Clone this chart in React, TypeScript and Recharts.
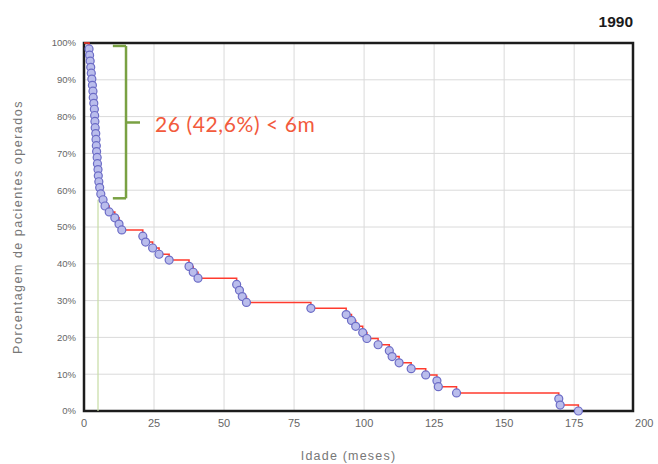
import * as React from "react";
import {
  ComposedChart,
  Line,
  Scatter,
  XAxis,
  YAxis,
  CartesianGrid,
  ReferenceLine,
  ReferenceArea,
} from "recharts";

// age (months) at which each patient was operated
const ages = [
  1.8, 2.0, 2.2, 2.4, 2.6, 2.8, 3.0, 3.2, 3.3, 3.5, 3.7, 3.8, 3.9, 4.0, 4.2,
  4.3, 4.4, 4.5, 4.7, 4.8, 5.0, 5.1, 5.3, 5.6, 6.0, 6.8, 7.5, 9, 11, 12.5,
  13.5, 21, 22, 24.5, 26.8, 30.4, 37.5, 39, 40.7, 54.5, 55.5, 56.5, 58, 81,
  93.6, 95.5, 97, 99.5, 101, 105, 109, 110, 112.5, 116.8, 122, 126, 126.5,
  133, 169.5, 170, 176.5,
];

// percentage still not operated after each of those
const pcts = [
  98.4, 96.7, 95.1, 93.4, 91.8, 90.2, 88.5, 86.9, 85.2, 83.6, 82.0, 80.3,
  78.7, 77.0, 75.4, 73.8, 72.1, 70.5, 68.9, 67.2, 65.6, 63.9, 62.3, 60.7,
  59.0, 57.4, 55.7, 54.1, 52.5, 50.8, 49.2, 47.5, 45.9, 44.3, 42.6, 41.0,
  39.3, 37.7, 36.1, 34.4, 32.8, 31.1, 29.5, 27.9, 26.2, 24.6, 23.0, 21.3,
  19.7, 18.0, 16.4, 14.8, 13.1, 11.5, 9.8, 8.2, 6.6, 4.9, 3.3, 1.6, 0,
];

const xTicks = [0, 25, 50, 75, 100, 125, 150, 175, 200];
const yTicks = [0, 10, 20, 30, 40, 50, 60, 70, 80, 90, 100];

const points = ages.map((a, i) => ({ age: a, pct: pcts[i] }));
const stepData = [{ age: 0, pct: 100 }, ...points];

const brace = "#79a143";

function Dot(p) {
  return (
    <circle
      cx={p.cx}
      cy={p.cy}
      r={4}
      fill="#babdec"
      stroke="#6c6cc6"
      strokeWidth={1.2}
    />
  );
}

export default function App() {
  return (
    <div style={{ position: "absolute", left: 0, top: 0, width: 658, height: 464 }}>
      <ComposedChart
        width={658}
        height={464}
        margin={{ top: 43, right: 25, bottom: 23, left: 44 }}
      >
        <CartesianGrid
          stroke="#dadada"
          verticalValues={[25, 50, 75, 100, 125, 150, 175]}
          horizontalValues={[10, 20, 30, 40, 50, 60, 70, 80, 90]}
        />
        <XAxis
          type="number"
          dataKey="age"
          domain={[0, 196]}
          allowDataOverflow
          ticks={xTicks}
          interval={0}
          axisLine={false}
          tickLine={false}
          tick={{ fontSize: 11, fill: "#666", fontFamily: "Liberation Sans" }}
          height={30}
          label={{
            value: "Idade (meses)",
            position: "bottom",
            offset: 10,
            dx: -10,
            style: {
              fontSize: 12.5,
              fill: "#777",
              letterSpacing: 1.2,
              fontFamily: "Liberation Sans",
            },
          }}
        />
        <YAxis
          type="number"
          dataKey="pct"
          domain={[0, 100]}
          ticks={yTicks}
          interval={0}
          width={40}
          axisLine={false}
          tickLine={false}
          tickFormatter={(v) => v + "%"}
          tick={{ fontSize: 9.5, fill: "#666", fontFamily: "Liberation Sans" }}
          label={{
            value: "Porcentagem de pacientes operados",
            angle: -90,
            position: "insideLeft",
            offset: -26,
            style: {
              textAnchor: "middle",
              fontSize: 12.5,
              fill: "#777",
              letterSpacing: 1.5,
              fontFamily: "Liberation Sans",
            },
          }}
        />
        <ReferenceLine
          segment={[
            { x: 5, y: 0 },
            { x: 5, y: 57.4 },
          ]}
          stroke="#c6dca4"
          strokeWidth={1.2}
        />
        <ReferenceLine
          segment={[
            { x: 15, y: 99.2 },
            { x: 15, y: 57.8 },
          ]}
          stroke={brace}
          strokeWidth={2.5}
        />
        <ReferenceLine
          segment={[
            { x: 10.3, y: 99.2 },
            { x: 15, y: 99.2 },
          ]}
          stroke={brace}
          strokeWidth={2.5}
        />
        <ReferenceLine
          segment={[
            { x: 10.3, y: 57.8 },
            { x: 15, y: 57.8 },
          ]}
          stroke={brace}
          strokeWidth={2.5}
        />
        <ReferenceLine
          segment={[
            { x: 15, y: 78.4 },
            { x: 20, y: 78.4 },
          ]}
          stroke={brace}
          strokeWidth={2.5}
        />
        <Line
          data={stepData}
          dataKey="pct"
          type="stepAfter"
          stroke="#ff3b2e"
          strokeWidth={1.5}
          dot={false}
          isAnimationActive={false}
        />
        <Scatter
          data={points}
          dataKey="pct"
          shape={Dot}
          isAnimationActive={false}
        />
        <ReferenceArea
          x1={0}
          x2={196}
          y1={0}
          y2={100}
          fill="none"
          stroke="#1c1c1c"
          strokeWidth={2.5}
        />
      </ComposedChart>
      <div
        style={{
          position: "absolute",
          left: 560,
          width: 73,
          top: 13,
          textAlign: "right",
          fontFamily: "Liberation Sans",
          fontWeight: "bold",
          fontSize: 15.5,
          lineHeight: "18px",
          color: "#1a1a1a",
        }}
      >
        1990
      </div>
      <div
        style={{
          position: "absolute",
          left: 155,
          top: 113,
          fontFamily: "Lato",
          fontSize: 21,
          lineHeight: "22px",
          letterSpacing: 0.6,
          color: "#f25a3c",
          whiteSpace: "nowrap",
        }}
      >
        26 (42,6%) &lt; 6m
      </div>
    </div>
  );
}
